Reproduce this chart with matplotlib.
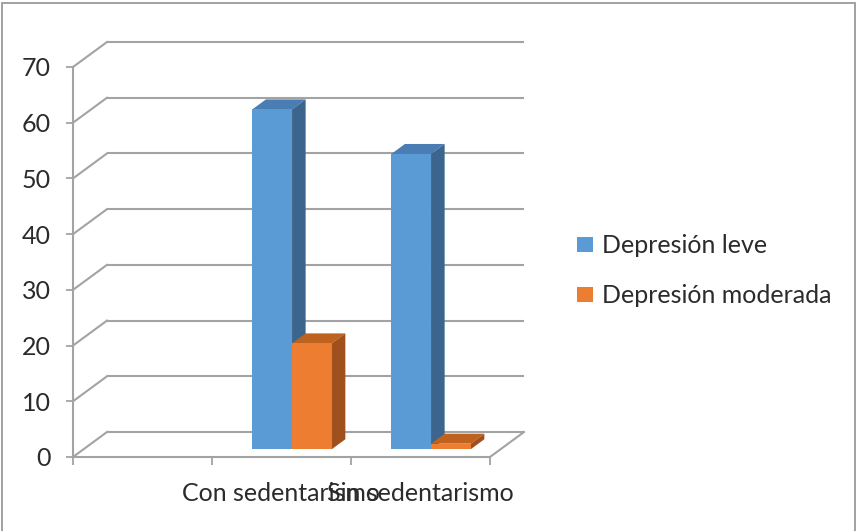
import matplotlib
matplotlib.use("Agg")
import matplotlib.pyplot as plt
from matplotlib.patches import Polygon, Patch, Rectangle

# ---- data -------------------------------------------------------------
categories = ["", "Con sedentarismo", "Sin sedentarismo"]
series_names = ["Depresión leve", "Depresión moderada"]
leve = [None, 61, 53]
moderada = [None, 19, 1]
y_ticks = [0, 10, 20, 30, 40, 50, 60, 70]

# ---- styling ----------------------------------------------------------
FRONT = ["#5B9BD5", "#ED7D31"]
SIDE = ["#3B658C", "#A0501C"]
TOP = ["#4A7DB4", "#BF611F"]
GRID = "#A3A3A3"
TEXT = "#2B2B2B"
FONT = "Lato"
FS = 18

W, H, DPI = 856, 531, 100
fig = plt.figure(figsize=(W / DPI, H / DPI), dpi=DPI)
fig.patch.set_facecolor("white")

# outer chart border (bottom edge runs off the canvas)
fig.patches.append(Rectangle((1.5 / W, -10 / H), (855 - 1.5) / W, (531 - 2.5 + 10) / H,
                             transform=fig.transFigure, fill=False,
                             ec="#9A9A9A", lw=1.3))

# front plane of the plot area (pixels)
x0px, x1px, y0px, y1px = 73, 490, 457, 67
ymax = y_ticks[-1]
ax = fig.add_axes([x0px / W, 1 - y0px / H, (x1px - x0px) / W, (y0px - y1px) / H])
ax.set_xlim(0, len(categories))
ax.set_ylim(0, ymax)
ax.set_facecolor("none")

px_x = (x1px - x0px) / len(categories)
px_y = (y0px - y1px) / ymax
DX = 34 / px_x      # depth offset along x (data units)
DY = 25 / px_y      # depth offset along y (data units)

ncat = len(categories)

# back wall and side wall gridlines
for v in y_ticks:
    ax.plot([DX, ncat + DX], [v + DY, v + DY], color=GRID, lw=1.5,
            clip_on=False, zorder=1, solid_capstyle="butt")
    ax.plot([0, DX], [v, v + DY], color=GRID, lw=1.5, clip_on=False, zorder=1)
# floor right edge
ax.plot([ncat, ncat + DX], [0, DY], color=GRID, lw=1.5, clip_on=False, zorder=1)

# 3D bars
nser = 2
gap = 1.5
bw = 1.0 / (nser + gap)
d0, d1 = 0.31, 0.71
series = [leve, moderada]
for ci in range(ncat):
    for si in range(nser):
        v = series[si][ci]
        if v is None:
            continue
        left = ci + 0.5 - nser * bw / 2 + si * bw
        ox0, oy0 = d0 * DX, d0 * DY
        dd = (d1 - d0)
        ddx, ddy = dd * DX, dd * DY
        xl, xr = left + ox0, left + bw + ox0
        yb, yt = oy0, v + oy0
        top = Polygon([(xl, yt), (xr, yt), (xr + ddx, yt + ddy), (xl + ddx, yt + ddy)],
                      closed=True, fc=TOP[si], ec="none", clip_on=False, zorder=3)
        side = Polygon([(xr, yb), (xr + ddx, yb + ddy), (xr + ddx, yt + ddy), (xr, yt)],
                       closed=True, fc=SIDE[si], ec="none", clip_on=False, zorder=3)
        front = Polygon([(xl, yb), (xr, yb), (xr, yt), (xl, yt)],
                        closed=True, fc=FRONT[si], ec="none", clip_on=False, zorder=3)
        for p in (top, side, front):
            ax.add_patch(p)

# axes: front vertical axis and front floor edge
for s in ("top", "right"):
    ax.spines[s].set_visible(False)
for s in ("left", "bottom"):
    ax.spines[s].set_color(GRID)
    ax.spines[s].set_linewidth(1.5)
    ax.spines[s].set_zorder(2)

ax.set_yticks(y_ticks)
ax.set_yticklabels([str(t) for t in y_ticks], fontfamily=FONT, fontsize=FS, color=TEXT)
ax.tick_params(axis="y", direction="out", length=5, width=1.3, color=GRID, pad=11)

ax.set_xticks(range(ncat + 1))
ax.set_xticklabels([])
ax.set_xticks([i + 0.5 for i in range(ncat)], minor=True)
ax.set_xticklabels(categories, minor=True, fontfamily=FONT, fontsize=FS, color=TEXT)
ax.tick_params(axis="x", which="major", direction="out", length=6, width=1.3, color=GRID)
ax.tick_params(axis="x", which="minor", length=0, pad=18)

# legend
handles = [Patch(fc=FRONT[i], ec="none") for i in range(nser)]
fs_px = FS / 0.72
leg = fig.legend(handles, series_names, loc="upper left",
                 bbox_to_anchor=(577 / W, 1 - 234 / H), frameon=False,
                 prop={"family": FONT, "size": FS},
                 handlelength=16 / fs_px, handleheight=14 / fs_px,
                 handletextpad=9 / fs_px, labelspacing=1.08, borderpad=0,
                 borderaxespad=0)
for t in leg.get_texts():
    t.set_color(TEXT)

fig.savefig("out.png", dpi=DPI, facecolor="white")
